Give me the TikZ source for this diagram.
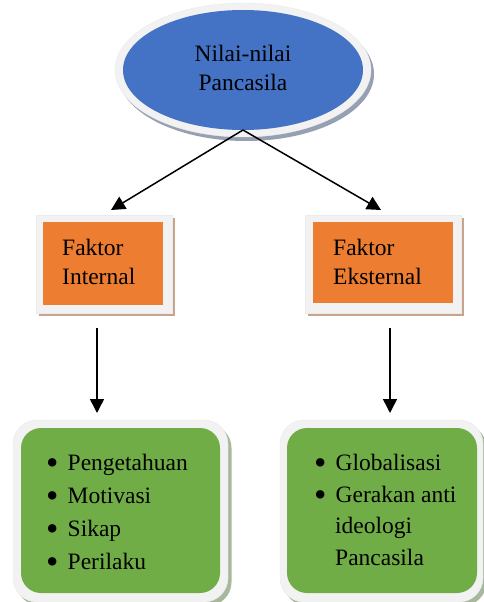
\documentclass[tikz,border=0pt]{standalone}
\usepackage{fontspec}
\usepackage{graphicx}
\setmainfont{Liberation Serif}
\usetikzlibrary{arrows.meta,shapes.geometric}
\definecolor{pcblue}{RGB}{68,114,196}
\definecolor{pcorange}{RGB}{237,125,49}
\definecolor{pcgreen}{RGB}{112,173,71}
\definecolor{pcring}{RGB}{242,242,242}
\definecolor{pcshblue}{RGB}{150,160,180}
\definecolor{pcshorange}{RGB}{200,164,140}
\definecolor{pcshgreen}{RGB}{168,184,156}
\newcommand{\ptitem}[1]{\makebox[19.5pt][l]{\hspace{-2pt}\raisebox{-4pt}{\scalebox{1.5}{\textbullet}}}#1}

\begin{document}
\begin{tikzpicture}[x=1pt,y=-1pt,
    box/.style={inner sep=0pt,outer sep=0pt},
    ring/.style={box,fill=pcring,draw=black!8,line width=0.4pt},
    txt/.style={inner sep=0pt,font=\fontsize{23.5}{29}\selectfont,align=left},
    arr/.style={line width=1.5pt,-{Triangle[length=14pt,width=14pt]}}]
  \useasboundingbox (0,0) rectangle (484,602);

  %% top: Nilai-nilai Pancasila
  \node[box,ellipse,fill=pcshblue,minimum width=256pt,minimum height=134pt] (pvsh) at (246,74) {};
  \node[ring,ellipse,minimum width=256pt,minimum height=134pt] (pvring) at (243,70) {};
  \node[box,ellipse,fill=pcblue,minimum width=240pt,minimum height=120pt] (pv) at (243,70) {};
  \node[txt,align=center] (pvtxt) at (243,67.5) {Nilai-nilai\\Pancasila};

  %% Faktor Internal
  \node[box,fill=pcshorange,minimum width=136pt,minimum height=98pt] (fish) at (107,267) {};
  \node[ring,minimum width=136pt,minimum height=98pt] (firing) at (104,264) {};
  \node[box,fill=pcorange,minimum width=120pt,minimum height=83pt] (fi) at (103,263.5) {};
  \node[txt,anchor=west] (fitxt) at (62,262) {Faktor\\Internal};

  %% Faktor Eksternal
  \node[box,fill=pcshorange,minimum width=156pt,minimum height=98pt] (fesh) at (386,267) {};
  \node[ring,minimum width=156pt,minimum height=98pt] (fering) at (383,264) {};
  \node[box,fill=pcorange,minimum width=140pt,minimum height=81pt] (fe) at (383,262.5) {};
  \node[txt,anchor=west] (fetxt) at (333,262) {Faktor\\Eksternal};

  %% internal factors list
  \node[box,fill=pcshgreen,rounded corners=24pt,minimum width=215pt,minimum height=182pt] (lish) at (124,515) {};
  \node[ring,rounded corners=24pt,minimum width=215pt,minimum height=182pt] (liring) at (120.5,511) {};
  \node[box,fill=pcgreen,rounded corners=20pt,minimum width=199pt,minimum height=165pt] (li) at (120.5,510.5) {};
  \node[txt,anchor=base west] (li1) at (48,470) {\ptitem{Pengetahuan}};
  \node[txt,anchor=base west] (li2) at (48,503) {\ptitem{Motivasi}};
  \node[txt,anchor=base west] (li3) at (48,536) {\ptitem{Sikap}};
  \node[txt,anchor=base west] (li4) at (48,569) {\ptitem{Perilaku}};

  %% external factors list
  \node[box,fill=pcshgreen,rounded corners=24pt,minimum width=203pt,minimum height=182pt] (lesh) at (385,515) {};
  \node[ring,rounded corners=24pt,minimum width=203pt,minimum height=182pt] (lering) at (381.5,511) {};
  \node[box,fill=pcgreen,rounded corners=20pt,minimum width=190pt,minimum height=165pt] (le) at (382,510.5) {};
  \node[txt,anchor=base west] (le1) at (316,470) {\ptitem{Globalisasi}};
  \node[txt,anchor=base west] (le2) at (316,502) {\ptitem{Gerakan anti}};
  \node[txt,anchor=base west] (le3) at (335,533) {ideologi};
  \node[txt,anchor=base west] (le4) at (335,565) {Pancasila};

  %% arrows
  \coordinate (tipi) at (111,210);
  \coordinate (tipe) at (381,210);
  \coordinate (srci) at (97,328);
  \coordinate (srce) at (390,328);
  \coordinate (tipli) at (97,413);
  \coordinate (tiple) at (390,413);
  \draw[arr] (pv.south) -- (tipi);
  \draw[arr] (pv.south) -- (tipe);
  \draw[arr] (srci) -- (tipli);
  \draw[arr] (srce) -- (tiple);
\end{tikzpicture}
\end{document}
